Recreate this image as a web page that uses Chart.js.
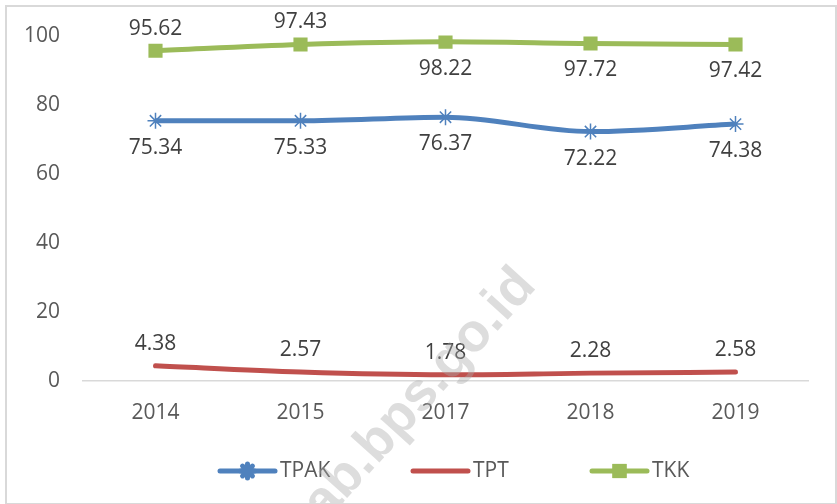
<!DOCTYPE html>
<html>
<head>
<meta charset="utf-8">
<script src="https://cdn.jsdelivr.net/npm/chart.js"></script>
<style>
  html, body { margin: 0; padding: 0; background: #fff; }
  #wrap { position: relative; width: 837px; height: 504px; }
  #frame { position: absolute; left: 5px; top: 5px; width: 828px; height: 496px; border: 2px solid #d9d9d9; pointer-events: none; }
</style>
</head>
<body>
<div id="wrap">
  <canvas id="chart" width="837" height="504"></canvas>
  <div id="frame"></div>
</div>
<script>
const years = ['2014', '2015', '2017', '2018', '2019'];
const tpak = [75.34, 75.33, 76.37, 72.22, 74.38];
const tpt = [4.38, 2.57, 1.78, 2.28, 2.58];
const tkk = [95.62, 97.43, 98.22, 97.72, 97.42];
const yTicks = [0, 20, 40, 60, 80, 100];

const FONT = '"Open Sans", "Liberation Sans", sans-serif';
const TEXT = '#595959';

// where each series puts its value labels
const labelSide = {
  TPAK: ['below', 'below', 'below', 'below', 'below'],
  TPT: ['above', 'above', 'above', 'above', 'above'],
  TKK: ['above', 'above', 'below', 'below', 'below']
};

const valueLabels = {
  id: 'valueLabels',
  afterDatasetsDraw(chart) {
    const ctx = chart.ctx;
    ctx.save();
    ctx.font = '21px ' + FONT;
    ctx.fillStyle = '#404040';
    ctx.textAlign = 'center';
    ctx.textBaseline = 'middle';
    chart.data.datasets.forEach((ds, i) => {
      const meta = chart.getDatasetMeta(i);
      meta.data.forEach((pt, j) => {
        const side = labelSide[ds.label][j];
        const dy = side === 'above' ? -22 : 27;
        ctx.fillText(ds.data[j].toFixed(2), pt.x, pt.y + dy);
      });
    });
    ctx.restore();
  }
};

const customLegend = {
  id: 'customLegend',
  afterDraw(chart) {
    const ctx = chart.ctx;
    const y = 471;
    const starts = [220, 413, 592];
    ctx.save();
    ctx.font = '21px ' + FONT;
    ctx.textBaseline = 'middle';
    chart.data.datasets.forEach((ds, i) => {
      const x0 = starts[i];
      ctx.strokeStyle = ds.borderColor;
      ctx.lineWidth = 5;
      ctx.lineCap = 'round';
      ctx.beginPath();
      ctx.moveTo(x0, y);
      ctx.lineTo(x0 + 55, y);
      ctx.stroke();
      if (ds.pointRadius > 0) {
        ctx.fillStyle = ds.pointBackgroundColor;
        Chart.helpers.drawPoint(ctx, {
          pointStyle: ds.pointStyle,
          radius: ds.pointStyle === 'rect' ? ds.pointRadius : 7,
          borderWidth: ds.pointBorderWidth,
          rotation: 0
        }, x0 + 27.5, y);
        if (ds.pointStyle === 'rect') ctx.fill();
      }
      ctx.fillStyle = TEXT;
      ctx.textAlign = 'left';
      ctx.fillText(ds.label, x0 + 60, y);
    });
    ctx.restore();
  }
};

const watermark = {
  id: 'watermark',
  afterDraw(chart) {
    const ctx = chart.ctx;
    ctx.save();
    ctx.translate(420, 395);
    ctx.rotate(-48 * Math.PI / 180);
    ctx.font = 'bold 54px "Liberation Sans", sans-serif';
    ctx.fillStyle = 'rgba(170,170,170,0.4)';
    ctx.textAlign = 'center';
    ctx.textBaseline = 'middle';
    ctx.fillText('ab.bps.go.id', 0, 0);
    ctx.restore();
  }
};

new Chart(document.getElementById('chart'), {
  type: 'line',
  data: {
    labels: years,
    datasets: [
      {
        label: 'TPAK',
        data: tpak,
        borderColor: '#4f81bd',
        backgroundColor: '#4f81bd',
        borderWidth: 5,
        pointStyle: 'star',
        pointRadius: 8,
        pointBorderWidth: 1.5,
        pointBorderColor: '#4f81bd',
        pointBackgroundColor: '#4f81bd',
        cubicInterpolationMode: 'monotone'
      },
      {
        label: 'TPT',
        data: tpt,
        borderColor: '#c0504d',
        backgroundColor: '#c0504d',
        borderWidth: 5,
        borderCapStyle: 'round',
        pointRadius: 0,
        cubicInterpolationMode: 'monotone'
      },
      {
        label: 'TKK',
        data: tkk,
        borderColor: '#9bbb59',
        backgroundColor: '#9bbb59',
        borderWidth: 5,
        pointStyle: 'rect',
        pointRadius: 10,
        pointBorderWidth: 0,
        pointBorderColor: '#9bbb59',
        pointBackgroundColor: '#9bbb59',
        cubicInterpolationMode: 'monotone'
      }
    ]
  },
  options: {
    responsive: false,
    animation: false,
    events: [],
    layout: { padding: { top: 35, right: 29, bottom: 0, left: 0 } },
    plugins: {
      legend: { display: false },
      tooltip: { enabled: false }
    },
    scales: {
      x: {
        offset: true,
        grid: { display: false, drawTicks: false, offset: true },
        border: { display: true, color: '#d9d9d9', width: 1.5 },
        ticks: { color: TEXT, font: { family: FONT, size: 21 }, padding: 19, maxRotation: 0 },
        afterFit(scale) { scale.height = 123; }
      },
      y: {
        min: 0,
        max: 100,
        afterBuildTicks(scale) { scale.ticks = yTicks.map(v => ({ value: v })); },
        grid: { display: false, drawTicks: false },
        border: { display: false },
        ticks: { color: TEXT, font: { family: FONT, size: 21 }, padding: 23 },
        afterFit(scale) { scale.width = 83; }
      }
    }
  },
  plugins: [valueLabels, customLegend, watermark]
});
</script>
</body>
</html>
